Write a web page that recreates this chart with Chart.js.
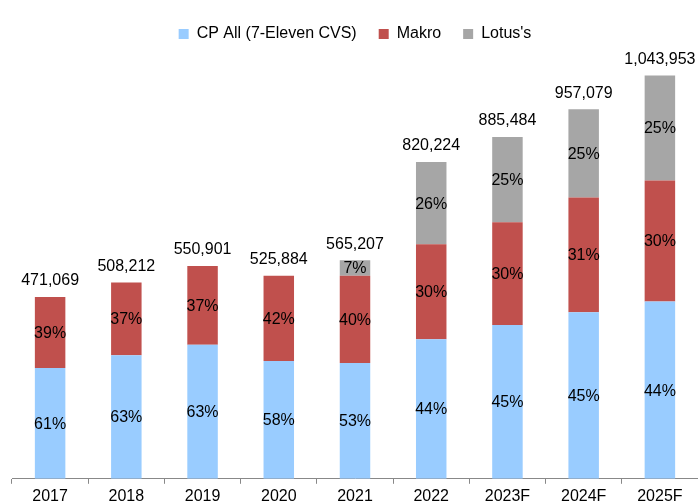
<!DOCTYPE html>
<html>
<head>
    <script src="https://cdn.jsdelivr.net/npm/chart.js"></script>
    <style>
        body {
            margin: 0;
            background: #fff;
            overflow: hidden;
        }
        .chart-box {
            width: 698px;
            height: 509px;
        }
    </style>
</head>
<body>
<div class="chart-box">
    <canvas id="salesChart"></canvas>
</div>

<script>
    const years = ['2017', '2018', '2019', '2020', '2021', '2022', '2023F', '2024F', '2025F'];
    const cpAll = [287000, 320000, 347000, 305000, 300000, 361000, 398000, 431000, 459000];
    const makro = [184000, 188000, 204000, 221000, 226000, 246000, 266000, 297000, 313000];
    const lotus = [0, 0, 0, 0, 40000, 213000, 221000, 229000, 272000];
    const totals = ['471,069', '508,212', '550,901', '525,884', '565,207', '820,224', '885,484', '957,079', '1,043,953'];
    const cpPct = ['61%', '63%', '63%', '58%', '53%', '44%', '45%', '45%', '44%'];
    const makroPct = ['39%', '37%', '37%', '42%', '40%', '30%', '30%', '31%', '30%'];
    const lotusPct = ['', '', '', '', '7%', '26%', '25%', '25%', '25%'];

    const pctLabels = [cpPct, makroPct, lotusPct];
    const FONT = '"Liberation Sans", Arial, sans-serif';

    // percentages inside segments + totals on top
    const barLabels = {
        id: 'barLabels',
        afterDatasetsDraw(chart) {
            const ctx = chart.ctx;
            ctx.save();
            ctx.font = '16px ' + FONT;
            ctx.fillStyle = '#000';
            ctx.textAlign = 'center';
            ctx.textBaseline = 'middle';
            chart.data.datasets.forEach((ds, i) => {
                chart.getDatasetMeta(i).data.forEach((bar, j) => {
                    const txt = pctLabels[i][j];
                    if (!txt) return;
                    ctx.fillText(txt, bar.x, (bar.y + bar.base) / 2 + 1);
                });
            });
            chart.getDatasetMeta(2).data.forEach((bar, j) => {
                ctx.fillText(totals[j], bar.x, bar.y - 16);
            });
            ctx.restore();
        }
    };

    new Chart(document.getElementById('salesChart'), {
        type: 'bar',
        data: {
            labels: years,
            datasets: [
                { label: 'CP All (7-Eleven CVS)', data: cpAll, backgroundColor: '#99CCFF' },
                { label: 'Makro', data: makro, backgroundColor: '#C0504D' },
                { label: "Lotus's", data: lotus, backgroundColor: '#A6A6A6' }
            ]
        },
        options: {
            responsive: true,
            maintainAspectRatio: false,
            animation: false,
            layout: { padding: { left: 12, right: 0, top: 4, bottom: 0 } },
            datasets: {
                bar: { categoryPercentage: 1, barPercentage: 0.4 }
            },
            plugins: {
                tooltip: { enabled: false },
                legend: {
                    position: 'top',
                    labels: {
                        font: { family: FONT, size: 16 },
                        color: '#000',
                        boxWidth: 10,
                        boxHeight: 10,
                        padding: 22
                    }
                }
            },
            scales: {
                x: {
                    stacked: true,
                    grid: {
                        offset: true,
                        drawOnChartArea: false,
                        drawTicks: true,
                        tickLength: 5,
                        color: '#888'
                    },
                    border: { color: '#888' },
                    ticks: {
                        font: { family: FONT, size: 16 },
                        color: '#000',
                        padding: 3,
                        maxRotation: 0
                    }
                },
                y: {
                    stacked: true,
                    display: false,
                    min: 0,
                    max: 1105000
                }
            }
        },
        plugins: [barLabels]
    });
</script>
</body>
</html>
